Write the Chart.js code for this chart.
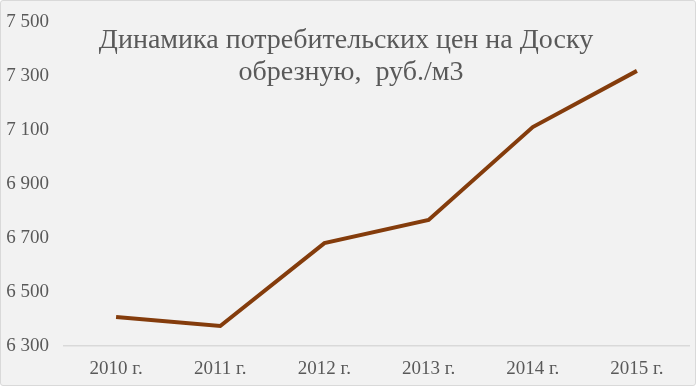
<!DOCTYPE html>
<html>
<head>
<meta charset="utf-8">
<script src="https://cdn.jsdelivr.net/npm/chart.js@4/dist/chart.umd.min.js"></script>
<style>
  html, body { margin: 0; padding: 0; background: #ffffff; }
  #wrap { width: 694px; height: 384px; border: 1px solid #d9d9d9; border-radius: 3px; background: #f2f2f2; }
</style>
</head>
<body>
<div id="wrap"><canvas id="chart" width="694" height="384"></canvas></div>
<script>
const years = ['2010 г.', '2011 г.', '2012 г.', '2013 г.', '2014 г.', '2015 г.'];
const prices = [6407, 6374, 6681, 6767, 7111, 7319];
const titleLines = ['Динамика потребительских цен на Доску', 'обрезную,  руб./м3'];

const fontFamily = "'Liberation Serif', 'DejaVu Serif', serif";

const overlayTitle = {
  id: 'overlayTitle',
  afterDraw(chart) {
    const { ctx } = chart;
    ctx.save();
    ctx.fillStyle = '#595959';
    ctx.font = '28px ' + fontFamily;
    ctx.textAlign = 'center';
    ctx.textBaseline = 'middle';
    ctx.fillText(titleLines[0], 345, 40);
    ctx.fillText(titleLines[1], 350, 72);
    ctx.restore();
  }
};

new Chart(document.getElementById('chart'), {
  type: 'line',
  data: {
    labels: years,
    datasets: [{
      data: prices,
      borderColor: '#843c0c',
      borderWidth: 4,
      pointRadius: 0,
      tension: 0,
      fill: false
    }]
  },
  options: {
    responsive: false,
    animation: false,
    layout: { padding: { top: 21, right: 6, left: 0, bottom: 0 } },
    plugins: { legend: { display: false }, tooltip: { enabled: false } },
    scales: {
      x: {
        offset: true,
        afterFit: s => { s.height = 39; },
        grid: { display: false, drawTicks: false },
        border: { color: '#d9d9d9', width: 1.5 },
        ticks: { color: '#595959', font: { family: fontFamily, size: 19 }, padding: 12 }
      },
      y: {
        min: 6300,
        max: 7500,
        afterFit: s => { s.width = 63; s.paddingTop = 0; s.paddingBottom = 0; },
        grid: { display: false, drawTicks: false },
        border: { display: false },
        ticks: {
          stepSize: 200,
          color: '#595959',
          padding: 15,
          font: { family: fontFamily, size: 19 },
          callback: v => String(v).replace(/\B(?=(\d{3})+(?!\d))/g, ' ')
        }
      }
    }
  },
  plugins: [overlayTitle]
});
</script>
</body>
</html>
